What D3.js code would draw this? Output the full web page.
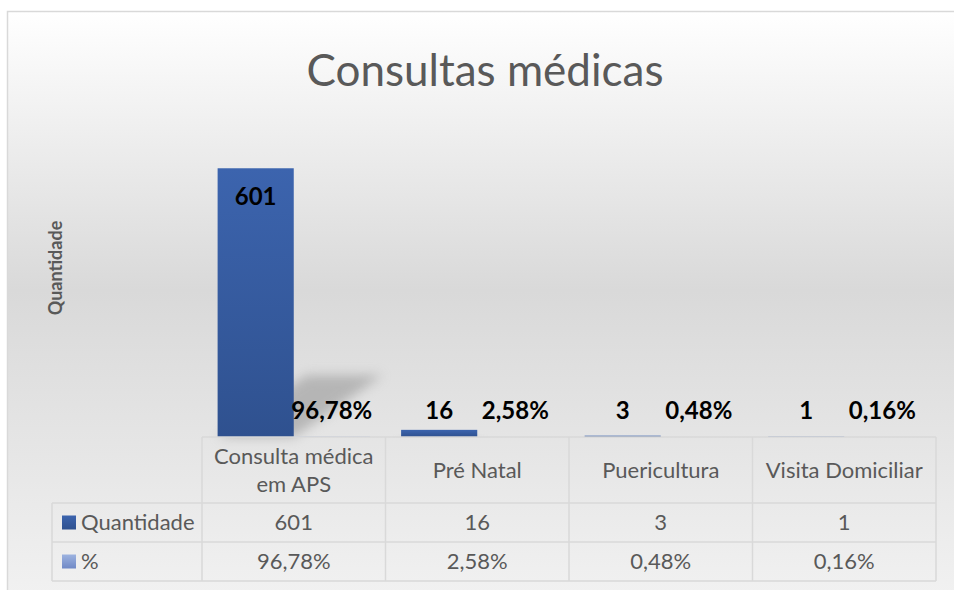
<!DOCTYPE html>
<html>
<head>
<meta charset="utf-8">
<script src="https://cdn.jsdelivr.net/npm/d3@7"></script>
<style>
  body { margin: 0; background: #fff; }
  text { font-family: Lato, "Open Sans", sans-serif; }
</style>
</head>
<body>
<script>
// chart data
const categories = ["Consulta médica em APS", "Pré Natal", "Puericultura", "Visita Domiciliar"];
const headerLines = [["Consulta médica", "em APS"], ["Pré Natal"], ["Puericultura"], ["Visita Domiciliar"]];
const quantidade = [601, 16, 3, 1];
const percent = [0.9678, 0.0258, 0.0048, 0.0016];
const seriesNames = ["Quantidade", "%"];
const yMax = 700;

const canvWidth = 954, canvHeight = 590;
const svg = d3.select("body").append("svg")
    .attr("width", canvWidth)
    .attr("height", canvHeight);

const defs = svg.append("defs");

// background gradient of the chart area
const bg = defs.append("linearGradient").attr("id", "bg")
    .attr("x1", 0).attr("y1", 0).attr("x2", 0).attr("y2", 1);
bg.append("stop").attr("offset", "0%").attr("stop-color", "#ffffff");
bg.append("stop").attr("offset", "45%").attr("stop-color", "#d9d9d9");
bg.append("stop").attr("offset", "100%").attr("stop-color", "#f4f4f4");

const barGrad = defs.append("linearGradient").attr("id", "barGrad")
    .attr("x1", 0).attr("y1", 0).attr("x2", 0).attr("y2", 1);
barGrad.append("stop").attr("offset", "0%").attr("stop-color", "#3c64ae");
barGrad.append("stop").attr("offset", "100%").attr("stop-color", "#2f518f");

const pctGrad = defs.append("linearGradient").attr("id", "pctGrad")
    .attr("x1", 0).attr("y1", 0).attr("x2", 0).attr("y2", 1);
pctGrad.append("stop").attr("offset", "0%").attr("stop-color", "#9db3e0");
pctGrad.append("stop").attr("offset", "100%").attr("stop-color", "#7089c6");

defs.append("filter").attr("id", "blur")
    .attr("x", "-50%").attr("y", "-50%").attr("width", "200%").attr("height", "200%")
    .append("feGaussianBlur").attr("stdDeviation", 6);

const seriesFill = ["url(#barGrad)", "url(#pctGrad)"];

// chart frame
svg.append("rect")
    .attr("x", 7.5).attr("y", 11.5)
    .attr("width", 980).attr("height", 620)
    .attr("fill", "url(#bg)")
    .attr("stroke", "#d9d9d9")
    .attr("stroke-width", 1.5);

// title
svg.append("text")
    .attr("x", 485).attr("y", 86)
    .attr("text-anchor", "middle")
    .attr("font-size", "44px")
    .attr("fill", "#595959")
    .text("Consultas médicas");

// axis title
svg.append("text")
    .attr("transform", "translate(62,268) rotate(-90)")
    .attr("text-anchor", "middle")
    .attr("font-size", "18px")
    .attr("font-weight", "bold")
    .attr("fill", "#595959")
    .text("Quantidade");

// scales
const plotLeft = 202, plotRight = 936, baseY = 437, plotTop = 124;
const x = d3.scaleBand().domain(categories).range([plotLeft, plotRight]).paddingInner(0).paddingOuter(0);
const xSeries = d3.scaleBand().domain(seriesNames).range([0, x.bandwidth()]).paddingOuter(0.205).paddingInner(0);
const y = d3.scaleLinear().domain([0, yMax]).range([baseY, plotTop]);

const rows = categories.map((c, i) => ({cat: c, q: quantidade[i], p: percent[i]}));

// perspective shadows of the bars
svg.append("g").selectAll("polygon")
    .data(rows)
    .join("polygon")
    .attr("points", d => {
        const x0 = x(d.cat) + xSeries("Quantidade"), w = xSeries.bandwidth();
        const h = baseY - y(d.q);
        const dx = h * 0.33, dy = h * 0.23;
        return [[x0, baseY], [x0 + w, baseY], [x0 + w + dx, baseY - dy], [x0 + dx, baseY - dy]].join(" ");
    })
    .attr("fill", "#8a8a8a")
    .attr("opacity", 0.5)
    .attr("filter", "url(#blur)");

// bars
const g = svg.append("g");
g.selectAll("rect.q")
    .data(rows)
    .join("rect")
    .attr("class", "q")
    .attr("x", d => x(d.cat) + xSeries("Quantidade"))
    .attr("y", d => y(d.q))
    .attr("width", xSeries.bandwidth())
    .attr("height", d => baseY - y(d.q))
    .attr("fill", seriesFill[0]);

g.selectAll("rect.p")
    .data(rows)
    .join("rect")
    .attr("class", "p")
    .attr("x", d => x(d.cat) + xSeries("%"))
    .attr("y", d => y(d.p))
    .attr("width", xSeries.bandwidth())
    .attr("height", d => baseY - y(d.p))
    .attr("fill", seriesFill[1]);

// data labels
const fmtPct = v => d3.format(".2f")(v * 100).replace(".", ",") + "%";
const labelY = v => {
    const top = y(v);
    if (baseY - top > 60) return top + 37;        // inside end
    return Math.min(top - 6, baseY - 18);          // outside end
};
const labels = svg.append("g")
    .attr("font-size", "24px")
    .attr("font-weight", "bold")
    .attr("fill", "#000")
    .attr("text-anchor", "middle");
labels.selectAll("text.q")
    .data(rows)
    .join("text")
    .attr("x", d => x(d.cat) + xSeries("Quantidade") + xSeries.bandwidth() / 2)
    .attr("y", d => labelY(d.q))
    .text(d => d.q);
labels.selectAll("text.p")
    .data(rows)
    .join("text")
    .attr("x", d => x(d.cat) + xSeries("%") + xSeries.bandwidth() / 2)
    .attr("y", d => labelY(d.p))
    .text(d => fmtPct(d.p));

// data table
const tableLeft = 52, headTop = 437, row1Top = 503, row2Top = 542, tableBottom = 581;
const table = svg.append("g").attr("fill", "none").attr("stroke", "#d9d9d9").attr("stroke-width", 1.5);
table.append("line").attr("x1", plotLeft).attr("x2", plotRight).attr("y1", headTop).attr("y2", headTop);
[row1Top, row2Top, tableBottom].forEach(yy =>
    table.append("line").attr("x1", tableLeft).attr("x2", plotRight).attr("y1", yy).attr("y2", yy));
table.append("line").attr("x1", tableLeft).attr("x2", tableLeft).attr("y1", row1Top).attr("y2", tableBottom);
categories.forEach(c =>
    table.append("line").attr("x1", x(c)).attr("x2", x(c)).attr("y1", headTop).attr("y2", tableBottom));
table.append("line").attr("x1", plotRight).attr("x2", plotRight).attr("y1", headTop).attr("y2", tableBottom);

const tText = svg.append("g").attr("font-size", "22px").attr("fill", "#595959");
// header
categories.forEach((c, i) => {
    const lines = headerLines[i];
    const cy = (headTop + row1Top) / 2;
    lines.forEach((ln, j) => {
        tText.append("text")
            .attr("x", x(c) + x.bandwidth() / 2)
            .attr("y", cy + (j - (lines.length - 1) / 2) * 28)
            .attr("dy", "0.35em")
            .attr("text-anchor", "middle")
            .text(ln);
    });
});
// rows
const rowCenters = [(row1Top + row2Top) / 2, (row2Top + tableBottom) / 2];
const rowValues = [quantidade.map(String), percent.map(fmtPct)];
seriesNames.forEach((s, r) => {
    svg.append("rect")
        .attr("x", 62).attr("y", rowCenters[r] - 7)
        .attr("width", 14).attr("height", 14)
        .attr("fill", seriesFill[r]);
    tText.append("text")
        .attr("x", 81).attr("y", rowCenters[r])
        .attr("dy", "0.35em")
        .text(s);
    categories.forEach((c, i) => {
        tText.append("text")
            .attr("x", x(c) + x.bandwidth() / 2)
            .attr("y", rowCenters[r])
            .attr("dy", "0.35em")
            .attr("text-anchor", "middle")
            .text(rowValues[r][i]);
    });
});
</script>
</body>
</html>
